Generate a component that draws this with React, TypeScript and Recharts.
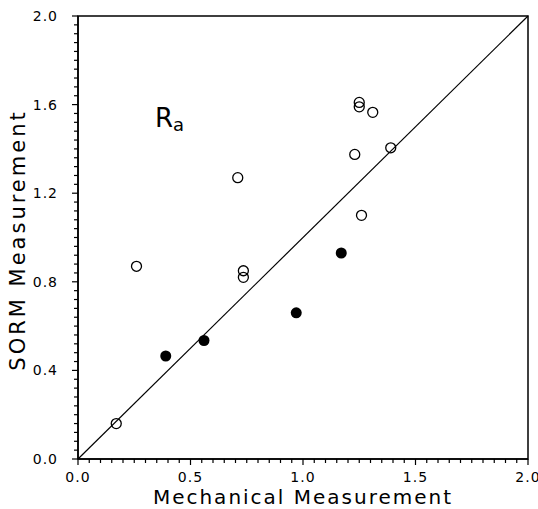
import React from 'react';
import {
  ScatterChart,
  Scatter,
  XAxis,
  YAxis,
  ReferenceLine,
  ReferenceArea,
  ReferenceDot,
} from 'recharts';

// Ra roughness: SORM vs. mechanical stylus measurement
const openX = [0.17, 0.26, 0.735, 0.735, 0.71, 1.25, 1.25, 1.31, 1.23, 1.39, 1.26];
const openY = [0.16, 0.87, 0.85, 0.82, 1.27, 1.61, 1.59, 1.565, 1.375, 1.405, 1.10];
const filledX = [0.39, 0.56, 0.97, 1.17];
const filledY = [0.465, 0.535, 0.66, 0.93];

const majorXTicks = [0, 0.5, 1, 1.5, 2];
const majorYTicks = [0, 0.4, 0.8, 1.2, 1.6, 2];
const minorXStep = 0.05;
const minorYStep = 0.04;

const openPoints = openX.map((x, i) => ({ x, y: openY[i] }));
const filledPoints = filledX.map((x, i) => ({ x, y: filledY[i] }));

const buildTicks = (max: number, step: number) => {
  const out: number[] = [];
  const n = Math.round(max / step);
  for (let i = 0; i <= n; i++) out.push(+(i * step).toFixed(4));
  return out;
};

const xTicks = buildTicks(2, minorXStep);
const yTicks = buildTicks(2, minorYStep);

const isMajor = (v: number, majors: number[]) => majors.some((m) => Math.abs(m - v) < 1e-6);

const FONT = '"DejaVu Sans", sans-serif';

const XTick = (props: any) => {
  const { x, y, payload } = props;
  const major = isMajor(payload.value, majorXTicks);
  return (
    <g>
      <line x1={x} y1={y} x2={x} y2={y + (major ? 6 : 4)} stroke="#000" strokeWidth={1.2} />
      {major && (
        <text x={x} y={y + 23} textAnchor="middle" fontSize={14} fontFamily={FONT} letterSpacing={1} fill="#000">
          {payload.value.toFixed(1)}
        </text>
      )}
    </g>
  );
};

const YTick = (props: any) => {
  const { x, y, payload } = props;
  const major = isMajor(payload.value, majorYTicks);
  return (
    <g>
      <line x1={x} y1={y} x2={x - (major ? 6 : 4)} y2={y} stroke="#000" strokeWidth={1.2} />
      {major && (
        <text x={x - 20} y={y + 5} textAnchor="end" fontSize={14} fontFamily={FONT} letterSpacing={1} fill="#000">
          {payload.value.toFixed(1)}
        </text>
      )}
    </g>
  );
};

const openShape = (p: any) => (
  <circle cx={p.cx} cy={p.cy} r={5} fill="none" stroke="#000" strokeWidth={1.3} />
);
const filledShape = (p: any) => <circle cx={p.cx} cy={p.cy} r={5.5} fill="#000" />;

export default function App() {
  return (
    <div style={{ position: 'absolute', left: 0, top: 0, width: 538, height: 509, background: '#fff' }}>
      <ScatterChart width={538} height={509} margin={{ top: 16, right: 10, bottom: 0, left: 0 }}>
        <XAxis
          type="number"
          dataKey="x"
          domain={[0, 2]}
          ticks={xTicks}
          interval={0}
          tickSize={0}
          tickMargin={0}
          tickLine={false}
          tick={<XTick />}
          height={50}
          axisLine={{ stroke: '#000', strokeWidth: 1.5 }}
          label={{
            value: 'Mechanical Measurement',
            position: 'insideBottom',
            offset: 5,
            fontSize: 20,
            fontFamily: FONT,
            letterSpacing: 2,
            fill: '#000',
          }}
        />
        <YAxis
          type="number"
          dataKey="y"
          domain={[0, 2]}
          ticks={yTicks}
          interval={0}
          tickSize={0}
          tickMargin={0}
          tickLine={false}
          tick={<YTick />}
          width={78}
          axisLine={{ stroke: '#000', strokeWidth: 1.5 }}
          label={{
            content: () => (
              <text
                x={25}
                y={240}
                transform="rotate(-90, 25, 240)"
                textAnchor="middle"
                fontSize={21}
                fontFamily={FONT}
                letterSpacing={3}
                fill="#000"
              >
                SORM Measurement
              </text>
            ),
          }}
        />
        <ReferenceArea x1={0} x2={2} y1={0} y2={2} fill="none" fillOpacity={0} stroke="#000" strokeWidth={1.5} />
        <ReferenceLine
          segment={[
            { x: 0, y: 0 },
            { x: 2, y: 2 },
          ]}
          stroke="#000"
          strokeWidth={1.2}
        />
        <ReferenceDot
          x={0.342}
          y={1.5}
          r={0}
          fill="none"
          stroke="none"
          label={{
            content: (props: any) => {
              const vb = props.viewBox || {};
              return (
                <text x={vb.x} y={vb.y} fontFamily={FONT} fill="#000">
                  <tspan fontSize={26}>R</tspan>
                  <tspan fontSize={18} dy={4}>a</tspan>
                </text>
              );
            },
          }}
        />
        <Scatter data={openPoints} shape={openShape} isAnimationActive={false} />
        <Scatter data={filledPoints} shape={filledShape} isAnimationActive={false} />
      </ScatterChart>
    </div>
  );
}
